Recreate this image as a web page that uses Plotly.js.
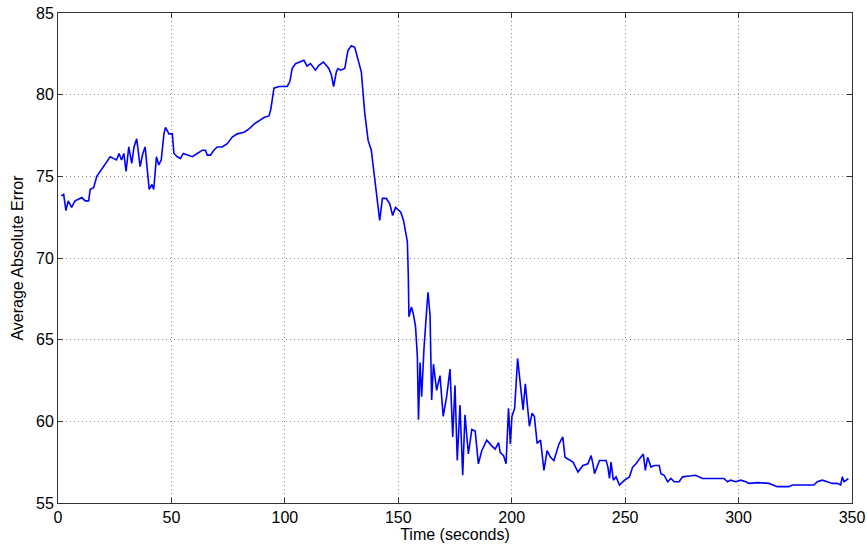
<!DOCTYPE html>
<html>
<head>
<meta charset="utf-8">
<script src="https://cdn.plot.ly/plotly-3.0.1.min.js"></script>
<style>html,body{margin:0;padding:0;background:#fff;}#chart{width:867px;height:548px;}</style>
</head>
<body>
<div id="chart"></div>
<script>
const timeSeconds = [1.5,2.5,3.5,4.5,6,7.5,9,10.5,12,13.5,14.2,15.7,17.1,18.6,20,21.5,23,24.4,25.8,26.9,28,29,30,31.2,32.5,33.5,34.7,36.2,37.4,38.4,39.2,40.2,41.4,42.2,43.4,44.4,45.5,46.7,47.4,48.9,50.4,51.1,52.6,54,55.2,57,59.2,61.4,63.6,65,65.8,67.2,68.7,70.2,72.4,74.6,76.8,79,82,84.2,86.4,88.6,90.8,93,93.8,95.2,97.4,99.6,101,102.2,103.2,104.7,106.9,108.4,109.8,111.3,113.5,115,117,118.4,119.4,120.5,121.5,122.7,123.4,124.6,126.4,127.8,129.3,130.8,132.2,133.7,135.2,136.7,138.1,139.6,140.6,141.8,143,144.7,146.3,147.5,148.8,149.7,151.1,152.3,153.3,154,154.4,154.7,155.8,156.6,157.6,158.4,158.9,159.6,160.3,161.3,162.5,163.1,164,164.7,165.5,166.2,166.9,168.4,169.8,171.3,172.8,174,175,176,177.2,178.4,179.4,180.9,182.4,183.9,185.3,186.8,189,191.2,192.7,194.2,194.9,196.4,197.5,198.6,199.4,200.1,201.3,202.6,203.8,205,206,207.8,209,210,211.2,212.7,214.2,215.6,217.1,218.6,220.8,222.5,223.5,225.9,227,229.2,231.4,233.6,235,235.8,236.5,238.7,241.6,242.4,243.1,243.8,244.8,246,247.5,249.7,251.9,253.3,254.8,256.3,258,258.9,259.9,261.4,262.8,265,265.8,267.2,268.7,270.2,271.6,273.8,275.3,278.2,281.1,284.1,289.9,293.6,295.1,296.5,298.7,301,303.2,304.6,308.3,313.4,317.1,322.2,323.7,333.2,334.7,336.9,339.1,341.3,343.5,345,345.7,346.5,348.4];
const avgAbsError = [73.8,73.9,72.9,73.5,73.1,73.5,73.6,73.7,73.5,73.5,74.2,74.3,75.0,75.3,75.6,75.9,76.2,76.1,76.0,76.4,76.0,76.4,75.3,76.8,75.8,76.8,77.3,75.6,76.4,76.8,75.8,74.2,74.5,74.2,76.2,75.7,76.0,77.6,78.0,77.6,77.6,76.4,76.2,76.1,76.4,76.3,76.2,76.4,76.6,76.6,76.3,76.3,76.6,76.8,76.8,77.0,77.4,77.6,77.7,77.9,78.2,78.4,78.6,78.7,79.1,80.4,80.5,80.5,80.5,80.8,81.6,81.9,82.0,82.1,81.75,81.9,81.5,81.8,82.0,81.8,81.6,81.2,80.5,81.4,81.6,81.5,81.6,82.7,83.0,82.9,82.2,81.4,78.9,77.2,76.6,74.8,73.75,72.3,73.65,73.65,73.3,72.6,73.1,73.0,72.8,72.3,71.6,71.0,69.0,66.4,67.0,66.6,65.8,64.0,60.1,63.6,61.5,64.4,66.8,67.9,66.5,61.3,63.5,62.7,61.9,62.8,60.3,61.5,63.2,59.05,62.2,57.6,61.0,56.7,60.4,58.0,59.5,59.4,57.4,58.2,58.85,58.5,58.3,58.7,58.1,57.9,57.4,60.8,58.6,60.3,60.8,63.85,62.3,60.7,62.3,59.7,60.5,60.3,58.65,58.85,57.0,58.2,57.8,57.6,58.6,59.05,57.8,57.6,57.5,56.9,57.3,57.4,57.9,57.4,56.8,57.6,57.6,57.2,56.5,57.5,56.4,56.6,56.1,56.4,56.6,57.2,57.4,57.7,58.0,57.0,57.8,57.2,57.3,57.3,56.8,56.7,56.3,56.5,56.3,56.3,56.6,56.65,56.7,56.5,56.5,56.5,56.3,56.4,56.3,56.4,56.3,56.2,56.25,56.2,56.0,56.0,56.1,56.1,56.3,56.4,56.3,56.2,56.2,56.1,56.6,56.3,56.5];
const xTicks = [0,50,100,150,200,250,300,350];
const yTicks = [55,60,65,70,75,80,85];

const fontFam = 'Liberation Sans, Arial, Helvetica, sans-serif';
const axisCommon = {
  showline: true, mirror: 'ticks', linecolor: '#333', linewidth: 1,
  ticks: 'inside', ticklen: 5, tickcolor: '#333',
  showgrid: true, gridcolor: '#8a8a8a', griddash: '1px,3px', gridwidth: 1,
  zeroline: false, tickfont: {family: fontFam, size: 16, color: '#000'}
};

Plotly.newPlot('chart', [{
  x: timeSeconds, y: avgAbsError, type: 'scatter', mode: 'lines',
  line: {color: '#0000ff', width: 1.6}, hoverinfo: 'skip'
}], {
  width: 867, height: 548,
  margin: {l: 58, r: 15, t: 13, b: 45},
  paper_bgcolor: '#fff', plot_bgcolor: '#fff',
  showlegend: false,
  xaxis: Object.assign({}, axisCommon, {
    range: [0, 350], tickvals: xTicks, ticktext: xTicks.map(String),
    title: {text: 'Time (seconds)', font: {family: fontFam, size: 16, color: '#000'}, standoff: 2}
  }),
  yaxis: Object.assign({}, axisCommon, {
    range: [55, 85], tickvals: yTicks, ticktext: yTicks.map(String),
    title: {text: 'Average Absolute Error', font: {family: fontFam, size: 16, color: '#000'}, standoff: 8}
  })
}, {displayModeBar: false, staticPlot: true});
</script>
</body>
</html>
